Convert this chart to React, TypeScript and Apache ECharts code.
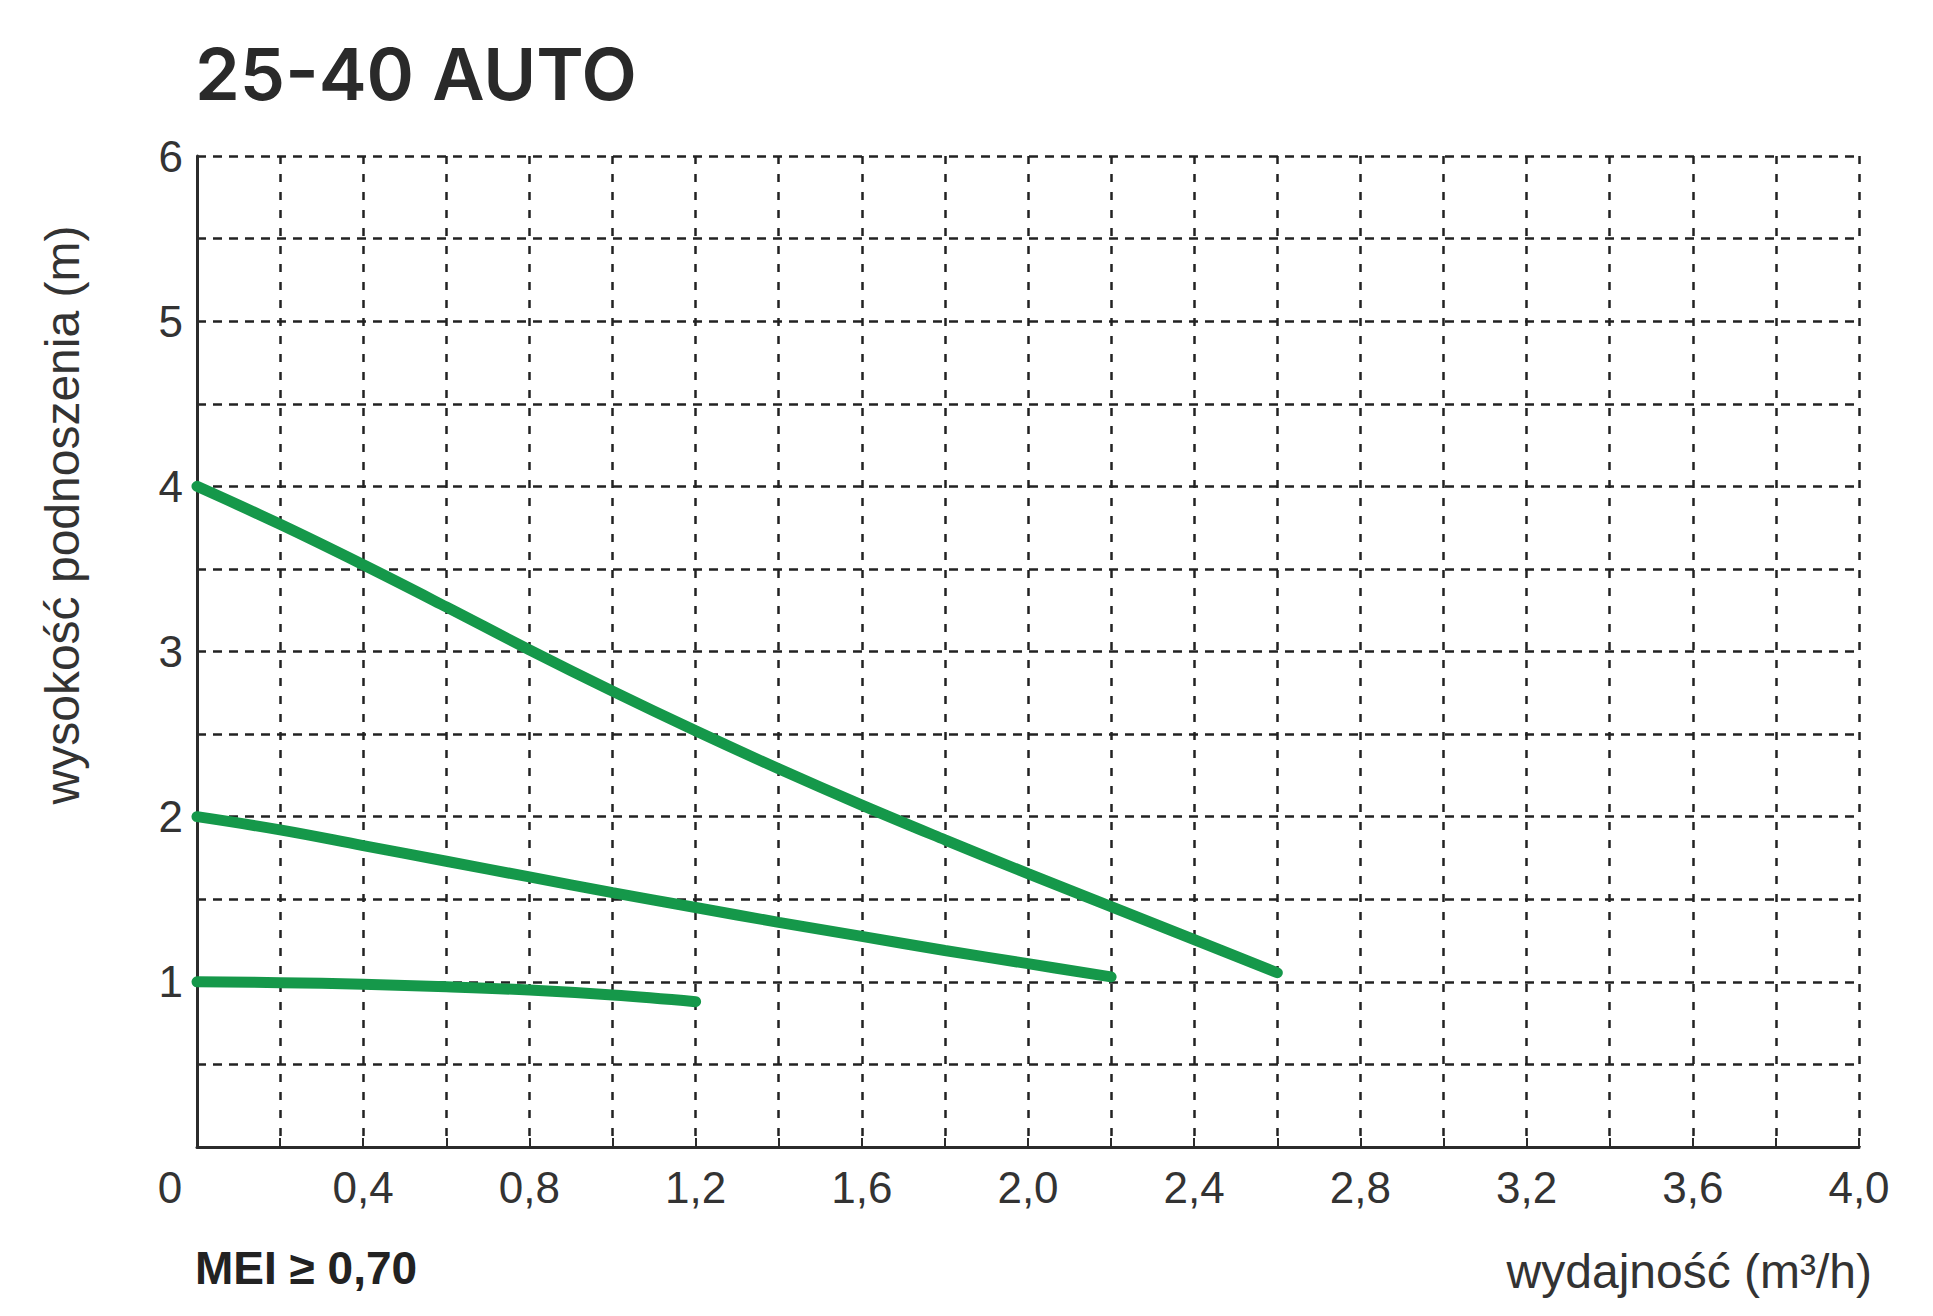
import { useEffect, useRef } from 'react';
import * as echarts from 'echarts';

// Krzywe pompy 25-40 AUTO: wydajność (m3/h) -> wysokość podnoszenia (m)
const flowTop = [0, 0.2, 0.4, 0.6, 0.8, 1.0, 1.2, 1.4, 1.6, 1.8, 2.0, 2.2, 2.4, 2.6];
const headTop = [4.0, 3.77, 3.525, 3.27, 3.01, 2.76, 2.52, 2.29, 2.07, 1.86, 1.655, 1.455, 1.255, 1.055];

const flowMid = [0, 0.2, 0.4, 0.6, 0.8, 1.0, 1.2, 1.4, 1.6, 1.8, 2.0, 2.2];
const headMid = [2.0, 1.92, 1.825, 1.73, 1.635, 1.54, 1.45, 1.36, 1.275, 1.19, 1.11, 1.03];

const flowLow = [0, 0.2, 0.4, 0.6, 0.8, 1.0, 1.2];
const headLow = [1.0, 0.995, 0.985, 0.97, 0.95, 0.92, 0.88];

const chartTitle = '25-40 AUTO';
const yTitle = 'wysokość podnoszenia (m)';
const xTitle = 'wydajność (m³/h)';
const meiNote = 'MEI ≥ 0,70';

const GREEN = '#15984a';
const INK = '#2b2b2b';
const FONT = '"Liberation Sans", Arial, sans-serif';

const pairs = (xs: number[], ys: number[]) => xs.map((x, i) => [x, ys[i]]);

export default function App() {
    const chartRef = useRef<HTMLDivElement>(null);

    useEffect(() => {
        if (!chartRef.current) return;
        const chart = echarts.init(chartRef.current, null, { renderer: 'svg' });

        const curve = (name: string, xs: number[], ys: number[]) => ({
            name,
            type: 'line',
            smooth: 0.4,
            symbol: 'none',
            lineStyle: { width: 11, color: GREEN, cap: 'round' },
            data: pairs(xs, ys)
        });

        const option: any = {
            animation: false,
            backgroundColor: '#ffffff',
            grid: { left: 197, right: 74, top: 156, bottom: 169 },
            xAxis: {
                type: 'value',
                min: 0,
                max: 4,
                interval: 0.2,
                axisLine: { lineStyle: { color: INK, width: 3 } },
                axisTick: { show: true, inside: true, length: 9, lineStyle: { color: INK, width: 2 } },
                axisLabel: {
                    color: '#333',
                    fontFamily: FONT,
                    fontSize: 44,
                    margin: 18,
                    showMaxLabel: true,
                    formatter: (v: number) => {
                        const tenth = Math.round(v * 10);
                        if (tenth === 0) return '{o|0}';
                        if (tenth % 4 !== 0) return '';
                        return (tenth / 10).toFixed(1).replace('.', ',');
                    },
                    rich: { o: { fontFamily: FONT, fontSize: 44, color: '#333', padding: [0, 54, 0, 0] } }
                },
                splitLine: { show: true, lineStyle: { color: '#222', width: 2.5, type: [8, 10] } }
            },
            yAxis: {
                type: 'value',
                min: 0,
                max: 6,
                interval: 0.5,
                axisLine: { show: true, lineStyle: { color: INK, width: 3 } },
                axisTick: { show: false },
                axisLabel: {
                    color: '#333',
                    fontFamily: FONT,
                    fontSize: 44,
                    margin: 14,
                    formatter: (v: number) => (v > 0 && Math.abs(v - Math.round(v)) < 1e-6 ? String(Math.round(v)) : '')
                },
                splitLine: { show: true, lineStyle: { color: '#222', width: 2.5, type: [9, 7] } }
            },
            series: [
                curve('max', flowTop, headTop),
                curve('mid', flowMid, headMid),
                curve('min', flowLow, headLow)
            ],
            graphic: [
                {
                    type: 'text',
                    x: 195,
                    y: 73,
                    style: {
                        text: chartTitle,
                        font: '600 72px Inter, "Noto Sans", sans-serif',
                        fill: '#2a2a2a',
                        align: 'left',
                        verticalAlign: 'middle'
                    }
                },
                {
                    type: 'text',
                    x: 62,
                    y: 515,
                    rotation: Math.PI / 2,
                    style: {
                        text: yTitle,
                        font: '48px ' + FONT,
                        fill: '#333',
                        align: 'center',
                        verticalAlign: 'middle'
                    }
                },
                {
                    type: 'text',
                    x: 1872,
                    y: 1271,
                    style: {
                        text: xTitle,
                        font: '48px ' + FONT,
                        fill: '#333',
                        align: 'right',
                        verticalAlign: 'middle'
                    }
                },
                {
                    type: 'text',
                    x: 195,
                    y: 1268,
                    style: {
                        text: meiNote,
                        font: 'bold 46px ' + FONT,
                        fill: '#222',
                        align: 'left',
                        verticalAlign: 'middle'
                    }
                }
            ]
        };

        chart.setOption(option);

        return () => chart.dispose();
    }, []);

    return (
        <div
            ref={chartRef}
            style={{ position: 'absolute', left: 0, top: 0, width: 1933, height: 1316, background: '#fff' }}
        />
    );
}
